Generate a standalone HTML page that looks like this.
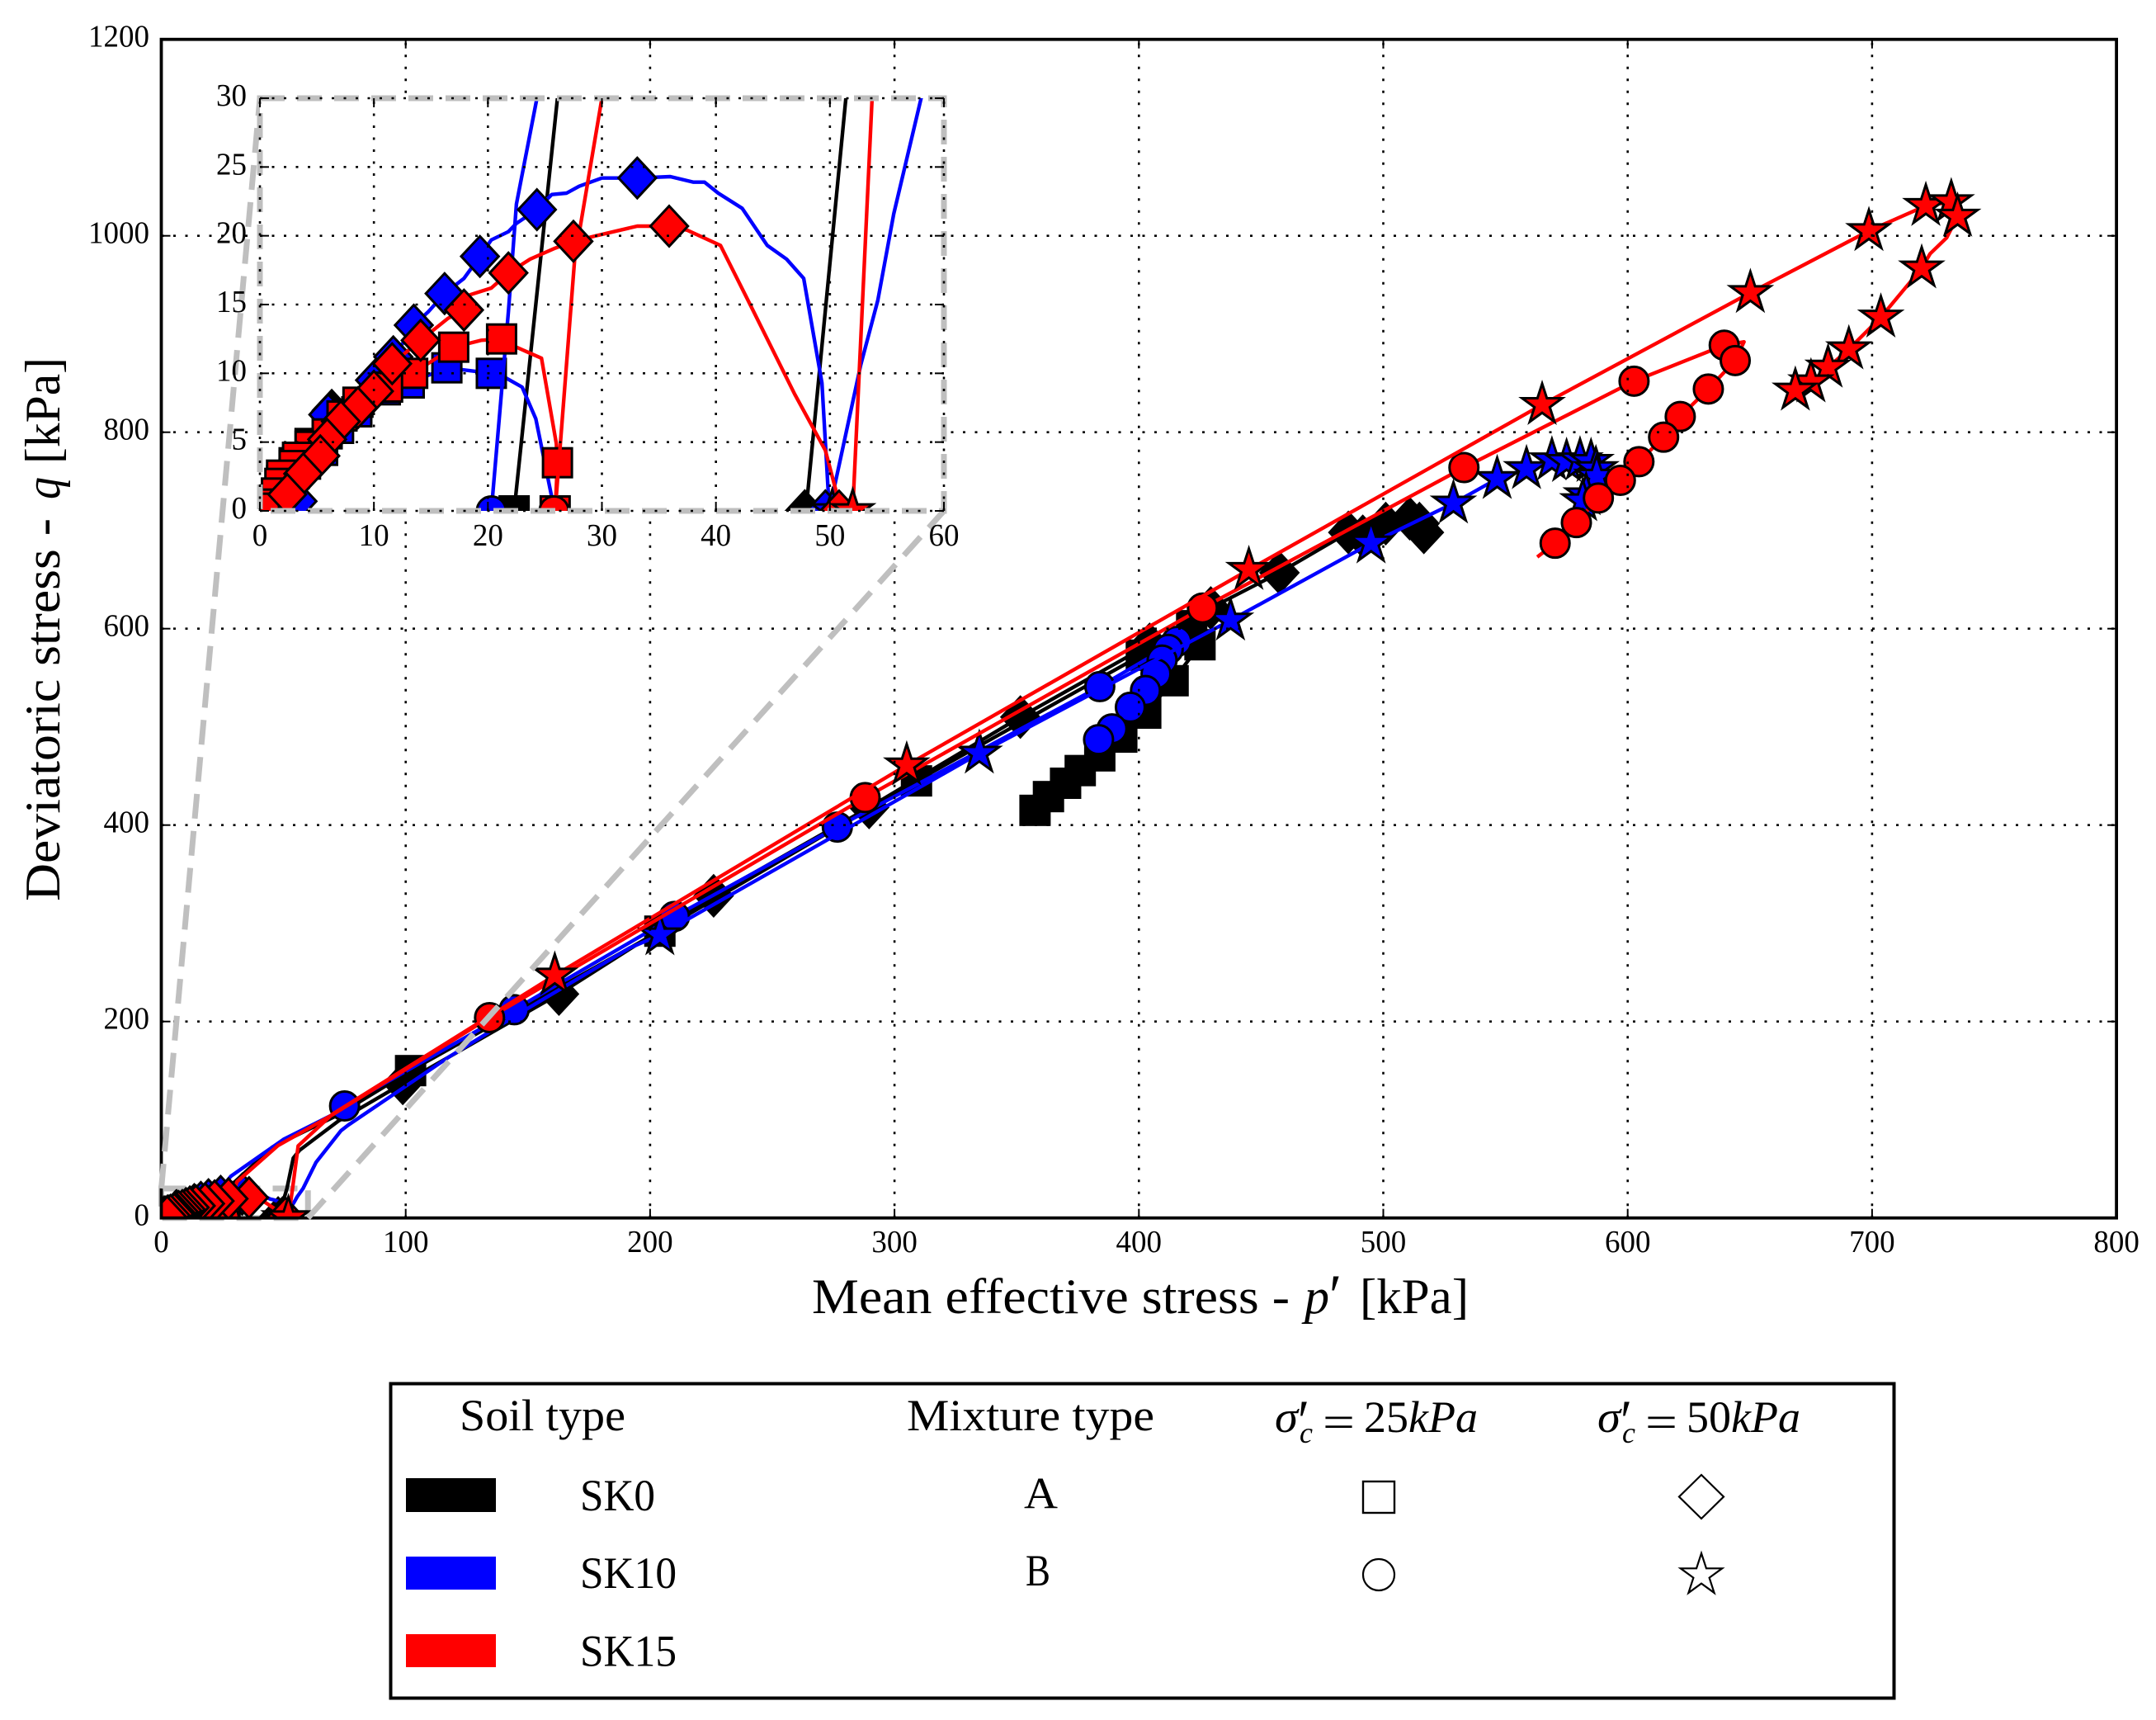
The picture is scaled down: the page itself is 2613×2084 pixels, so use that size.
<!DOCTYPE html>
<html lang="en">
<head>
<meta charset="utf-8">
<title>Deviatoric stress vs mean effective stress</title>
<style>
html,body{margin:0;padding:0;background:#fff;}
svg{display:block;}
text{font-family:"Liberation Serif",serif;fill:#000;}
</style>
</head>
<body>
<svg id="figure" xmlns="http://www.w3.org/2000/svg" width="2613" height="2084" viewBox="0 0 2613 2084">
  <rect x="0" y="0" width="2613" height="2084" fill="#fff"/>
  <defs>
    <clipPath id="mainClip"><rect x="195.5" y="47.7" width="2369.6" height="1428"/></clipPath>
    <clipPath id="insetClip"><rect x="315" y="119" width="829" height="500"/></clipPath>
  </defs>
  <g id="mainPlot"></g>
  <g id="insetPlot"></g>

  <g>
    <text x="984" y="1591" font-size="60" textLength="579" lengthAdjust="spacingAndGlyphs">Mean effective stress -</text>
    <text x="1581" y="1591" font-size="60" font-style="italic" textLength="30" lengthAdjust="spacingAndGlyphs">p</text>
    <text x="1611" y="1594" font-size="72" textLength="15" lengthAdjust="spacingAndGlyphs">′</text>
    <text x="1648" y="1591" font-size="60" textLength="132" lengthAdjust="spacingAndGlyphs">[kPa]</text>
  </g>
  <g transform="translate(72 1092) rotate(-90)">
    <text x="0" y="0" font-size="60" textLength="464" lengthAdjust="spacingAndGlyphs">Deviatoric stress -</text>
    <text x="487" y="0" font-size="60" font-style="italic" textLength="27" lengthAdjust="spacingAndGlyphs">q</text>
    <text x="530" y="0" font-size="60" textLength="129" lengthAdjust="spacingAndGlyphs">[kPa]</text>
  </g>

  <g>
    <rect x="473.5" y="1676.5" width="1822" height="381" fill="#fff" stroke="#000" stroke-width="4"/>
    <text x="557" y="1733" font-size="54" textLength="201" lengthAdjust="spacingAndGlyphs">Soil type</text>
    <text x="1099" y="1733" font-size="54" textLength="300" lengthAdjust="spacingAndGlyphs">Mixture type</text>

    <g>
      <text x="1545" y="1735" font-size="54" font-style="italic" textLength="28" lengthAdjust="spacingAndGlyphs">σ</text>
      <text x="1573" y="1746" font-size="72" textLength="14" lengthAdjust="spacingAndGlyphs">′</text>
      <text x="1575" y="1748" font-size="36" font-style="italic">c</text>
      <text x="1603" y="1741" font-size="54" textLength="39" lengthAdjust="spacingAndGlyphs">=</text>
      <text x="1653" y="1735" font-size="54" textLength="54" lengthAdjust="spacingAndGlyphs">25</text>
      <text x="1707" y="1735" font-size="54" font-style="italic" textLength="84" lengthAdjust="spacingAndGlyphs">kPa</text>
    </g>
    <g>
      <text x="1936" y="1735" font-size="54" font-style="italic" textLength="28" lengthAdjust="spacingAndGlyphs">σ</text>
      <text x="1964" y="1746" font-size="72" textLength="14" lengthAdjust="spacingAndGlyphs">′</text>
      <text x="1966" y="1748" font-size="36" font-style="italic">c</text>
      <text x="1994" y="1741" font-size="54" textLength="39" lengthAdjust="spacingAndGlyphs">=</text>
      <text x="2044" y="1735" font-size="54" textLength="54" lengthAdjust="spacingAndGlyphs">50</text>
      <text x="2098" y="1735" font-size="54" font-style="italic" textLength="84" lengthAdjust="spacingAndGlyphs">kPa</text>
    </g>

    <rect x="492" y="1791" width="109" height="41" fill="#000"/>
    <rect x="492" y="1886" width="109" height="40" fill="#00f"/>
    <rect x="492" y="1980" width="109" height="40" fill="#f00"/>
    <text x="703" y="1830" font-size="54" textLength="91" lengthAdjust="spacingAndGlyphs">SK0</text>
    <text x="703" y="1924" font-size="54" textLength="117" lengthAdjust="spacingAndGlyphs">SK10</text>
    <text x="703" y="2018.5" font-size="54" textLength="117" lengthAdjust="spacingAndGlyphs">SK15</text>
    <text x="1241" y="1827.5" font-size="54" textLength="41" lengthAdjust="spacingAndGlyphs">A</text>
    <text x="1243" y="1921" font-size="54" textLength="30" lengthAdjust="spacingAndGlyphs">B</text>
    <rect x="1652" y="1795" width="38" height="38" fill="none" stroke="#000" stroke-width="2.4"/>
    <circle cx="1671" cy="1908" r="19" fill="none" stroke="#000" stroke-width="2.2"/>
    <polygon points="2062,1787 2089,1813.5 2062,1840 2035,1813.5" fill="none" stroke="#000" stroke-width="2.2"/>
    <polygon id="legendStar" points="" fill="none" stroke="#000" stroke-width="2.2"/>
  </g>
</svg>

<script>
/* Shared axis ticks */
const mainXTicks = [0, 100, 200, 300, 400, 500, 600, 700, 800];
const mainYTicks = [0, 200, 400, 600, 800, 1000, 1200];
const insetXTicks = [0, 10, 20, 30, 40, 50, 60];
const insetYTicks = [0, 5, 10, 15, 20, 25, 30];

/* SK0 – square */
const sk0SquareLineP = [22.3, 26.1, 30.2, 45.4, 72.4, 102, 204, 309, 401, 421.6, 425, 414, 402.8, 393, 384, 376, 370, 363, 357.5];
const sk0SquareLineQ = [0, 30, 37, 72, 105, 150, 292, 445, 573, 603, 583.6, 547, 514, 489.6, 470.5, 455.5, 442.6, 429, 415];
const sk0SquareMarkP = [22.3, 4.4, 3, 1.9, 102, 204, 309, 401, 421.6, 425, 414, 402.8, 393, 384, 376, 370, 363, 357.5];
const sk0SquareMarkQ = [0, 4.9, 3.5, 2.2, 150, 292, 445, 573, 603, 583.6, 547, 514, 489.6, 470.5, 455.5, 442.6, 429, 415];

/* SK0 – diamond */
const sk0DiamondLineP = [47.9, 51.4, 54, 56.6, 72.4, 98.8, 162.7, 226, 289.6, 351.5, 404.4, 429.4, 457.5, 485.7, 491.6, 501, 510.8, 514.8, 516.6];
const sk0DiamondLineQ = [0, 30, 61, 69, 98.6, 137, 228, 328, 418, 510, 584, 621, 657, 698, 694, 707, 712, 707, 698];
const sk0DiamondMarkP = [47.8, 6.3, 98.8, 162.7, 226, 289.6, 351.5, 404.4, 429.4, 457.5, 485.7, 491.6, 501, 510.8, 514.8, 516.6];
const sk0DiamondMarkQ = [0, 7.3, 137, 228, 328, 418, 510, 584, 621, 657, 698, 694, 707, 712, 707, 698];

/* SK10 – square */
const sk10SquareLineP = [25.8, 25.6, 24.2, 23, 21.5, 20.3, 16.4, 13.1, 11, 8.5, 6.9, 5.5, 4, 3, 2, 1, 0];
const sk10SquareLineQ = [0, 1, 6.7, 9, 9.7, 10, 10.4, 9.3, 8.8, 7.2, 6, 4.4, 3.4, 2.7, 1.7, 0.8, 0];
const sk10SquareMarkP = [20.3, 16.4, 13.1, 11, 8.5, 6.9, 5.5, 4, 3, 2, 1];
const sk10SquareMarkQ = [10, 10.4, 9.3, 8.8, 7.2, 6, 4.4, 3.4, 2.7, 1.7, 0.8];

/* SK10 – circle */
const sk10CircleLineP = [20.3, 21.8, 22.5, 24.3, 28.5, 50, 70, 75, 144.4, 210, 276.6, 384, 415.5, 412, 409.5, 407, 402.7, 396.5, 389, 383.5];
const sk10CircleLineQ = [0, 14.5, 22.3, 30, 42.6, 80, 105, 114, 212, 307, 398, 541, 587, 579, 568, 554, 537, 520, 498, 487];
const sk10CircleMarkP = [20.3, 75, 144.4, 210, 276.6, 384, 415.5, 412, 409.5, 407, 402.7, 396.5, 389, 383.5];
const sk10CircleMarkQ = [0, 114, 212, 307, 398, 541, 587, 579, 568, 554, 537, 520, 498, 487];

/* SK10 – diamond */
const sk10DiamondLineP = [49.9, 49.3, 47.7, 46.2, 44.5, 42.3, 40.2, 39, 38, 36, 33.1, 30, 28, 26.9, 25.6, 24.3, 22.5, 21.8, 20.3, 19.3, 17.9, 16.2, 14.8, 13.5, 11.8, 10.1, 6, 3.3, 0];
const sk10DiamondLineQ = [0.7, 9.3, 16.9, 18.3, 19.3, 22, 23.1, 23.9, 23.9, 24.3, 24.2, 24.2, 23.6, 23.1, 23, 21.9, 20.9, 20.3, 19.7, 18.5, 16.9, 15.8, 14.5, 13.5, 11.2, 9.5, 7, 0.7, 0];
const sk10DiamondMarkP = [49.6, 33.1, 24.3, 19.3, 16.2, 13.5, 11.7, 10.1, 6, 3.3];
const sk10DiamondMarkQ = [0, 24.2, 21.9, 18.5, 15.8, 13.5, 11.2, 9.5, 7, 0.7];

/* SK10 – star */
const sk10StarLineP = [49.9, 50.2, 52.7, 54.2, 55.6, 58, 63.3, 73.5, 76.5, 118, 147, 191.7, 204, 334.7, 437.5, 495, 528.7, 546.6, 558.6, 569, 575, 580.5, 585, 587, 587.3, 583, 581.6];
const sk10StarLineQ = [0, 1, 10.6, 15.3, 21.6, 30, 56.6, 88.8, 94.6, 164.4, 209, 275, 288, 473, 608.5, 687, 727.6, 752.6, 762.7, 771.6, 770, 771.6, 770, 762.7, 755, 736, 730];
const sk10StarMarkP = [50.2, 204, 334.7, 437.5, 495, 528.7, 546.6, 558.6, 569, 575, 580.5, 585, 587, 587.3, 583, 581.6];
const sk10StarMarkQ = [0, 288, 473, 608.5, 687, 727.6, 752.6, 762.7, 771.6, 770, 771.6, 770, 762.7, 755, 736, 730];

/* SK15 – square */
const sk15SquareLineP = [25.9, 26.1, 26, 24.7, 22.5, 21.2, 19.4, 17, 13.4, 11.2, 8.6, 7.2, 5.9, 4.4, 3.3, 3, 1.9, 1.75, 1.45, 1.25, 0.4, 0];
const sk15SquareLineQ = [0, 3.5, 4.9, 11.1, 11.9, 12.5, 12.4, 11.9, 10, 9, 7.9, 6.9, 5.6, 4.7, 3.9, 3.3, 2.6, 2, 1.3, 0.5, 0.2, 0];
const sk15SquareMarkP = [25.9, 26.1, 21.2, 17, 13.4, 11.2, 8.6, 7.2, 5.9, 4.4, 3.3, 3, 1.9, 1.75, 1.45, 1.25, 0.4];
const sk15SquareMarkQ = [0, 3.5, 12.5, 11.9, 10, 9, 7.9, 6.9, 5.6, 4.7, 3.9, 3.3, 2.6, 2, 1.3, 0.5, 0.2];

/* SK15 – circle */
const sk15CircleLineP = [25.9, 27.6, 30, 31, 47.7, 70, 134.3, 288, 426, 533, 602.6, 639.5, 647.6, 644, 633, 621.5, 614.7, 604.6, 597, 588, 579, 570.3, 563];
const sk15CircleLineQ = [0, 18.2, 30, 37, 73.6, 105, 204, 428, 621, 764, 852, 888.6, 892, 873, 844, 816, 795, 770, 751, 733, 708, 687, 673];
const sk15CircleMarkP = [25.8, 134.3, 288, 426, 533, 602.6, 639.5, 644, 633, 621.5, 614.7, 604.6, 597, 588, 579, 570.3];
const sk15CircleMarkQ = [0, 204, 428, 621, 764, 852, 888.6, 873, 844, 816, 795, 770, 751, 733, 708, 687];

/* SK15 – diamond */
const sk15DiamondLineP = [50.8, 50.6, 49.6, 46.9, 43, 40.4, 37.5, 35.9, 33.1, 29.5, 27.5, 25.9, 23.7, 21.8, 20.3, 18.4, 17.9, 16.5, 14.1, 11.6, 10, 8.6, 7.1, 5.9, 5.3, 3.8, 2.4, 0];
const sk15DiamondLineQ = [0, 1.25, 4.4, 8.5, 15, 19.3, 20.4, 20.7, 20.7, 20, 19.6, 19.1, 18.3, 17.3, 16.2, 15.7, 14.6, 14, 12.4, 10.7, 8.7, 7.5, 6.5, 5.2, 4, 2.7, 1.2, 0];
const sk15DiamondMarkP = [50.8, 35.9, 27.5, 21.8, 17.9, 14.1, 11.6, 10, 8.6, 7.1, 5.9, 5.3, 3.8, 2.4];
const sk15DiamondMarkQ = [0, 20.7, 19.6, 17.3, 14.6, 12.4, 10.7, 8.7, 7.5, 6.5, 5.2, 4, 2.7, 1.2];

/* SK15 – star */
const sk15StarLineP = [52, 53.7, 56, 70, 161, 305, 445, 565, 650.2, 698.7, 722, 732.4, 735, 730.5, 723.7, 720.3, 703.6, 690.5, 682, 675, 668.6];
const sk15StarLineQ = [0, 30, 73.4, 105.6, 247, 461, 660, 828, 942, 1005, 1030.6, 1034.4, 1019.7, 998, 981.6, 967, 917, 884.6, 866, 851, 842.6];
const sk15StarMarkP = [52, 161, 305, 445, 565, 650.2, 698.7, 722, 732.4, 735, 720.3, 703.6, 690.5, 682, 675, 668.6];
const sk15StarMarkQ = [0, 247, 461, 660, 828, 942, 1005, 1030.6, 1034.4, 1019.7, 967, 917, 884.6, 866, 851, 842.6];

const SVG_NS = 'http://www.w3.org/2000/svg';
const BLACK = '#000000', BLUE = '#0000ff', RED = '#ff0000', GRAY = '#bfbfbf';

const seriesList = [
  {name: 'sk0-square',   color: BLACK, shape: 'square',  lp: sk0SquareLineP,   lq: sk0SquareLineQ,   mp: sk0SquareMarkP,   mq: sk0SquareMarkQ},
  {name: 'sk0-diamond',  color: BLACK, shape: 'diamond', lp: sk0DiamondLineP,  lq: sk0DiamondLineQ,  mp: sk0DiamondMarkP,  mq: sk0DiamondMarkQ},
  {name: 'sk10-square',  color: BLUE,  shape: 'square',  lp: sk10SquareLineP,  lq: sk10SquareLineQ,  mp: sk10SquareMarkP,  mq: sk10SquareMarkQ},
  {name: 'sk10-circle',  color: BLUE,  shape: 'circle',  lp: sk10CircleLineP,  lq: sk10CircleLineQ,  mp: sk10CircleMarkP,  mq: sk10CircleMarkQ},
  {name: 'sk10-diamond', color: BLUE,  shape: 'diamond', lp: sk10DiamondLineP, lq: sk10DiamondLineQ, mp: sk10DiamondMarkP, mq: sk10DiamondMarkQ},
  {name: 'sk10-star',    color: BLUE,  shape: 'star',    lp: sk10StarLineP,    lq: sk10StarLineQ,    mp: sk10StarMarkP,    mq: sk10StarMarkQ},
  {name: 'sk15-square',  color: RED,   shape: 'square',  lp: sk15SquareLineP,  lq: sk15SquareLineQ,  mp: sk15SquareMarkP,  mq: sk15SquareMarkQ},
  {name: 'sk15-circle',  color: RED,   shape: 'circle',  lp: sk15CircleLineP,  lq: sk15CircleLineQ,  mp: sk15CircleMarkP,  mq: sk15CircleMarkQ},
  {name: 'sk15-diamond', color: RED,   shape: 'diamond', lp: sk15DiamondLineP, lq: sk15DiamondLineQ, mp: sk15DiamondMarkP, mq: sk15DiamondMarkQ},
  {name: 'sk15-star',    color: RED,   shape: 'star',    lp: sk15StarLineP,    lq: sk15StarLineQ,    mp: sk15StarMarkP,    mq: sk15StarMarkQ}
];

function linearScale(d0, d1, r0, r1) {
  return function (v) { return r0 + (v - d0) * (r1 - r0) / (d1 - d0); };
}
const mainX = linearScale(0, 800, 195.5, 2565.1);
const mainY = linearScale(0, 1200, 1475.7, 47.7);
const insetX = linearScale(0, 60, 315, 1144);
const insetY = linearScale(0, 30, 619, 119);

function svgEl(tag, props, parent) {
  const el = document.createElementNS(SVG_NS, tag);
  for (const k in props) el.setAttribute(k, props[k]);
  if (parent) parent.appendChild(el);
  return el;
}
function starPoints(cx, cy, R) {
  const r = R * 0.381966, pts = [];
  for (let i = 0; i < 10; i++) {
    const rad = i % 2 === 0 ? R : r;
    const a = -Math.PI / 2 + i * Math.PI / 5;
    pts.push((cx + rad * Math.cos(a)).toFixed(2) + ',' + (cy + rad * Math.sin(a)).toFixed(2));
  }
  return pts.join(' ');
}
function drawMarker(parent, shape, cx, cy, color) {
  const base = {fill: color, stroke: '#000', 'stroke-width': 3, 'stroke-linejoin': 'miter'};
  if (shape === 'square') {
    return svgEl('rect', Object.assign({x: cx - 17.5, y: cy - 17.5, width: 35, height: 35}, base), parent);
  }
  if (shape === 'circle') {
    return svgEl('circle', Object.assign({cx: cx, cy: cy, r: 17.5}, base), parent);
  }
  if (shape === 'diamond') {
    const w = 22.7, h = 24.4;
    const pts = [cx, cy - h, cx + w, cy, cx, cy + h, cx - w, cy].join(' ');
    return svgEl('polygon', Object.assign({points: pts}, base), parent);
  }
  return svgEl('polygon', Object.assign({points: starPoints(cx, cy, 25.5)}, base), parent);
}
function drawSeries(parent, xs, ys, prefix) {
  seriesList.forEach(function (s) {
    const g = svgEl('g', {}, parent);
    
    
    const d = s.lp.map(function (p, i) {
      return (i ? 'L' : 'M') + xs(p).toFixed(2) + ' ' + ys(s.lq[i]).toFixed(2);
    }).join(' ');
    const line = svgEl('path', {d: d, fill: 'none', stroke: s.color, 'stroke-width': 4.4, 'stroke-linejoin': 'round'}, g);
    
    
    s.mp.forEach(function (p, i) {
      const m = drawMarker(g, s.shape, xs(p), ys(s.mq[i]), s.color);
      
      
    });
  });
}
function drawGrid(parent, xTicks, yTicks, xs, ys, prefix) {
  const x0 = xs(xTicks[0]), x1 = xs(xTicks[xTicks.length - 1]);
  const y0 = ys(yTicks[0]), y1 = ys(yTicks[yTicks.length - 1]);
  const style = {stroke: '#000', 'stroke-width': 2.6, 'stroke-dasharray': '3 11.5', fill: 'none'};
  xTicks.forEach(function (t) {
    const l = svgEl('line', Object.assign({x1: xs(t), x2: xs(t), y1: y0, y2: y1}, style), parent);
    
    
  });
  yTicks.forEach(function (t) {
    const l = svgEl('line', Object.assign({x1: x0, x2: x1, y1: ys(t), y2: ys(t)}, style), parent);
    
    
  });
}
function drawTicks(parent, xTicks, yTicks, xs, ys, prefix) {
  const x0 = xs(xTicks[0]), x1 = xs(xTicks[xTicks.length - 1]);
  const y0 = ys(yTicks[0]), y1 = ys(yTicks[yTicks.length - 1]);
  const len = 11;
  const style = {stroke: '#000', 'stroke-width': 2};
  xTicks.forEach(function (t) {
    const a = svgEl('line', Object.assign({x1: xs(t), x2: xs(t), y1: y0, y2: y0 - len}, style), parent);
    
    
    const b = svgEl('line', Object.assign({x1: xs(t), x2: xs(t), y1: y1, y2: y1 + len}, style), parent);
    
    
  });
  yTicks.forEach(function (t) {
    const a = svgEl('line', Object.assign({x1: x0, x2: x0 + len, y1: ys(t), y2: ys(t)}, style), parent);
    
    
    const b = svgEl('line', Object.assign({x1: x1, x2: x1 - len, y1: ys(t), y2: ys(t)}, style), parent);
    
    
  });
}
function drawLabels(parent, xTicks, yTicks, xs, ys, prefix, xBase, yRight) {
  xTicks.forEach(function (t) {
    const str = String(t);
    const el = svgEl('text', {x: xs(t), y: xBase, 'text-anchor': 'middle', 'font-size': 38, textLength: str.length * 18.5, lengthAdjust: 'spacingAndGlyphs'}, parent);
    el.textContent = str;
    
    
  });
  yTicks.forEach(function (t) {
    const str = String(t);
    const el = svgEl('text', {x: yRight, y: ys(t) + 9, 'text-anchor': 'end', 'font-size': 38, textLength: str.length * 18.5, lengthAdjust: 'spacingAndGlyphs'}, parent);
    el.textContent = str;
    
    
  });
}

const dashStyle = {fill: 'none', stroke: GRAY, 'stroke-width': 7, 'stroke-dasharray': '30 15'};

/* Main axes */
const mainPlot = document.getElementById('mainPlot');
const zoomBox = svgEl('rect', Object.assign({x: mainX(insetXTicks[0]), y: mainY(insetYTicks[6]), width: mainX(insetXTicks[6]) - mainX(insetXTicks[0]), height: mainY(insetYTicks[0]) - mainY(insetYTicks[6])}, dashStyle), mainPlot);


const mainSeries = svgEl('g', {'clip-path': 'url(#mainClip)'}, mainPlot);


drawSeries(mainSeries, mainX, mainY, 'main');
drawGrid(mainPlot, mainXTicks, mainYTicks, mainX, mainY, 'main');
drawTicks(mainPlot, mainXTicks, mainYTicks, mainX, mainY, 'main');
const mainFrame = svgEl('rect', {x: mainX(0), y: mainY(1200), width: mainX(800) - mainX(0), height: mainY(0) - mainY(1200), fill: 'none', stroke: '#000', 'stroke-width': 3.8}, mainPlot);


drawLabels(mainPlot, mainXTicks, mainYTicks, mainX, mainY, 'main', 1517, 181);

/* Zoom connectors */
const connectorA = svgEl('line', Object.assign({x1: mainX(insetXTicks[0]), y1: mainY(insetYTicks[6]), x2: insetX(insetXTicks[0]), y2: insetY(insetYTicks[6])}, dashStyle), mainPlot);


const connectorB = svgEl('line', Object.assign({x1: mainX(insetXTicks[6]), y1: mainY(insetYTicks[0]), x2: insetX(insetXTicks[6]), y2: insetY(insetYTicks[0])}, dashStyle), mainPlot);



/* Inset axes */
const insetPlot = document.getElementById('insetPlot');
const insetBg = svgEl('rect', {x: 315, y: 119, width: 829, height: 500, fill: '#fff'}, insetPlot);


const insetSeries = svgEl('g', {'clip-path': 'url(#insetClip)'}, insetPlot);


drawSeries(insetSeries, insetX, insetY, 'inset');
const insetFrame = svgEl('rect', Object.assign({x: 315, y: 119, width: 829, height: 500}, dashStyle), insetPlot);


drawGrid(insetPlot, insetXTicks, insetYTicks, insetX, insetY, 'inset');
drawTicks(insetPlot, insetXTicks, insetYTicks, insetX, insetY, 'inset');
drawLabels(insetPlot, insetXTicks, insetYTicks, insetX, insetY, 'inset', 661, 299);

document.getElementById('legendStar').setAttribute('points', starPoints(2062, 1908.5, 26.5));
</script>
</body>
</html>
